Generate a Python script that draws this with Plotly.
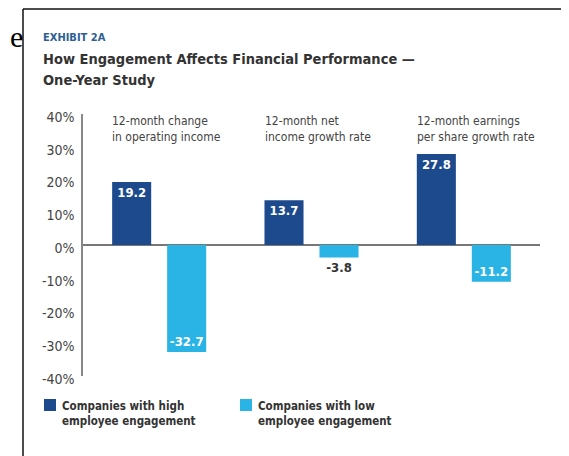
import plotly.graph_objects as go

categories = ["12-month change<br>in operating income",
              "12-month net<br>income growth rate",
              "12-month earnings<br>per share growth rate"]
high_engagement = [19.2, 13.7, 27.8]
low_engagement = [-32.7, -3.8, -11.2]
series_names = ["Companies with high<br>employee engagement",
                "Companies with low<br>employee engagement"]
tick_values = [40, 30, 20, 10, 0, -10, -20, -30, -40]
tick_labels = ["40%", "30%", "20%", "10%", "0%", "-10%", "-20%", "-30%", "-40%"]

W, H = 569, 456
OFF = 8  # page body margin offset
L, R, T, B = 83 - OFF, 540 - OFF, 114 - OFF, 376 - OFF
COND = "DejaVu Sans Condensed, Liberation Sans Narrow, sans-serif"
DARK = "#1c4a8c"
LIGHT = "#2ab4e6"


def px(x):
    return (x - OFF - L) / (R - L)


def py(y):
    return (B - (y - OFF)) / (B - T)


fig = go.Figure()
fig.add_trace(go.Bar(
    x=categories, y=high_engagement, name=series_names[0],
    marker=dict(color=DARK, line=dict(width=0)),
    text=[f"{v:.1f}" for v in high_engagement],
    textposition="inside", insidetextanchor="end", textangle=0,
    insidetextfont=dict(color="white", size=13, family=COND, weight="bold"),
    cliponaxis=False, constraintext="none", showlegend=False,
))
fig.add_trace(go.Bar(
    x=categories, y=low_engagement, name=series_names[1],
    marker=dict(color=LIGHT, line=dict(width=0)),
    text=[f"{v:.1f}" for v in low_engagement],
    textposition=["inside" if v < -6 else "outside" for v in low_engagement],
    insidetextanchor="end", textangle=0,
    insidetextfont=dict(color="white", size=13, family=COND, weight="bold"),
    outsidetextfont=dict(color="#333333", size=13, family=COND, weight="bold"),
    cliponaxis=False, constraintext="none", showlegend=False,
))

annotations = []
# category headers, left aligned with first bar of each group
for i, c in enumerate(categories):
    annotations.append(dict(
        x=i, xref="x", xshift=-49, y=py(112), yref="paper",
        text=c, showarrow=False, xanchor="left", yanchor="top", align="left",
        font=dict(family=COND, size=12, color="#444444"),
    ))

# title block
annotations += [
    dict(x=px(41), y=py(37), xref="paper", yref="paper", text="<b>EXHIBIT 2A</b>",
         showarrow=False, xanchor="left", yanchor="middle",
         font=dict(family=COND, size=11, color="#2d5f95")),
    dict(x=px(41), y=py(59), xref="paper", yref="paper",
         text="<b>How Engagement Affects Financial Performance —</b>",
         showarrow=False, xanchor="left", yanchor="middle",
         font=dict(family=COND, size=14.5, color="#333333")),
    dict(x=px(41), y=py(80), xref="paper", yref="paper",
         text="<b>One-Year Study</b>",
         showarrow=False, xanchor="left", yanchor="middle",
         font=dict(family=COND, size=14.5, color="#333333")),
    dict(x=px(8), y=py(36), xref="paper", yref="paper", text="e",
         showarrow=False, xanchor="left", yanchor="middle",
         font=dict(family="Liberation Serif", size=30, color="#000000")),
]

# legend (custom)
shapes = []
for sx, tx, col, name in [(44, 60, DARK, series_names[0]), (240, 256, LIGHT, series_names[1])]:
    shapes.append(dict(type="rect", xref="paper", yref="paper",
                       x0=px(sx), x1=px(sx + 12), y0=py(399), y1=py(411),
                       fillcolor=col, line=dict(width=0)))
    annotations.append(dict(x=px(tx), y=py(397), xref="paper", yref="paper",
                            text=f"<b>{name}</b>", showarrow=False,
                            xanchor="left", yanchor="top", align="left",
                            font=dict(family=COND, size=11.5, color="#333333")))

# frame
shapes.append(dict(type="line", xref="paper", yref="paper",
                   x0=px(23), x1=px(600), y0=py(9), y1=py(9),
                   line=dict(color="#111111", width=1.5)))
shapes.append(dict(type="line", xref="paper", yref="paper",
                   x0=px(23), x1=px(23), y0=py(9), y1=py(470),
                   line=dict(color="#111111", width=1.5)))

fig.update_layout(
    width=W, height=H,
    margin=dict(l=L, r=W - R, t=T, b=H - B),
    paper_bgcolor="white", plot_bgcolor="white",
    barmode="group", bargap=0.278, bargroupgap=0.29,
    annotations=annotations, shapes=shapes,
    showlegend=False,
    xaxis=dict(showticklabels=False, showgrid=False, showline=False, ticks=""),
    yaxis=dict(range=[-40, 40], tickvals=tick_values, ticktext=tick_labels,
               showgrid=False, zeroline=True, zerolinecolor="#777777", zerolinewidth=1.5,
               showline=True, linecolor="#888888", linewidth=1.5,
               ticks="", ticklen=0, ticklabelshift=3, ticklabelstandoff=4,
               tickfont=dict(family=COND, size=14, color="#444444")),
)

fig.write_html("out.html")
